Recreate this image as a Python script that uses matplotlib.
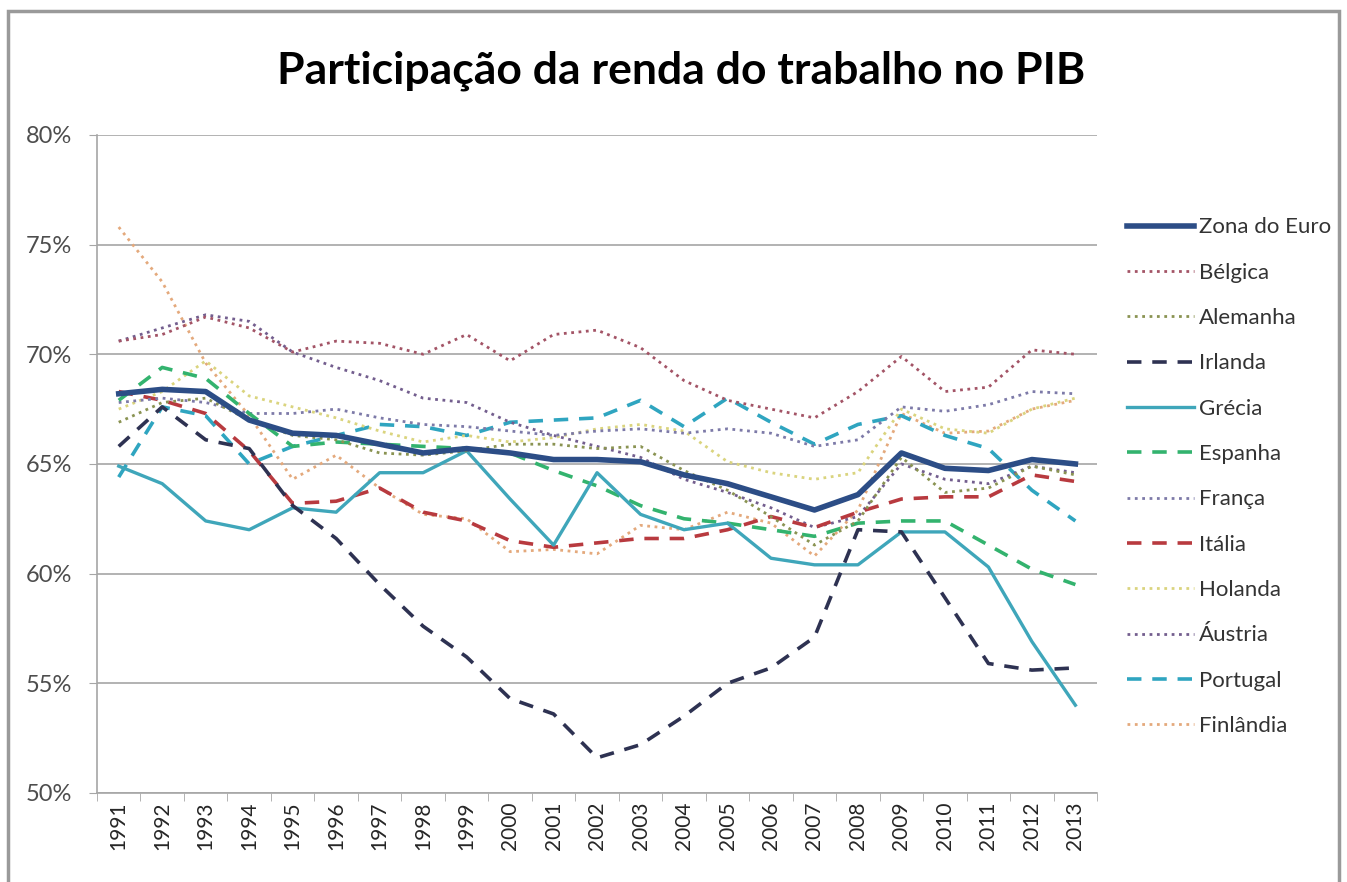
import matplotlib
matplotlib.use("Agg")
import matplotlib.pyplot as plt
from matplotlib.patches import Rectangle
from matplotlib.ticker import FuncFormatter, MultipleLocator
import numpy as np

# dados (% do PIB)
anos = [str(a) for a in range(1991, 2014)]

zona_euro = [68.2, 68.4, 68.3, 67.0, 66.4, 66.3, 65.9, 65.5, 65.7, 65.5, 65.2, 65.2,
             65.1, 64.5, 64.1, 63.5, 62.9, 63.6, 65.5, 64.8, 64.7, 65.2, 65.0]
belgica = [70.6, 70.9, 71.7, 71.2, 70.1, 70.6, 70.5, 70.0, 70.9, 69.7, 70.9, 71.1,
           70.3, 68.8, 67.9, 67.5, 67.1, 68.3, 69.9, 68.3, 68.5, 70.2, 70.0]
alemanha = [66.9, 67.8, 68.0, 67.0, 66.3, 66.1, 65.5, 65.4, 65.6, 65.9, 65.9, 65.7,
            65.8, 64.7, 63.8, 62.6, 61.3, 62.4, 65.3, 63.7, 63.9, 64.9, 64.5]
irlanda = [65.8, 67.6, 66.1, 65.7, 63.1, 61.6, 59.5, 57.6, 56.2, 54.3, 53.6, 51.6,
           52.2, 53.5, 55.0, 55.7, 57.1, 62.0, 61.9, 58.9, 55.9, 55.6, 55.7]
grecia = [64.9, 64.1, 62.4, 62.0, 63.0, 62.8, 64.6, 64.6, 65.6, 63.4, 61.3, 64.6,
          62.7, 62.0, 62.3, 60.7, 60.4, 60.4, 61.9, 61.9, 60.3, 56.9, 54.0]
espanha = [67.9, 69.4, 68.9, 67.3, 65.8, 66.0, 65.9, 65.8, 65.7, 65.5, 64.7, 64.0,
           63.1, 62.5, 62.3, 62.0, 61.7, 62.3, 62.4, 62.4, 61.3, 60.2, 59.5]
franca = [67.8, 68.0, 67.8, 67.3, 67.3, 67.5, 67.1, 66.8, 66.7, 66.5, 66.3, 66.5,
          66.6, 66.4, 66.6, 66.4, 65.8, 66.1, 67.6, 67.4, 67.7, 68.3, 68.2]
italia = [68.3, 67.9, 67.3, 65.6, 63.2, 63.3, 63.9, 62.8, 62.4, 61.5, 61.2, 61.4,
          61.6, 61.6, 62.0, 62.6, 62.1, 62.8, 63.4, 63.5, 63.5, 64.5, 64.2]
holanda = [67.5, 68.3, 69.7, 68.1, 67.6, 67.1, 66.5, 66.0, 66.3, 66.0, 66.2, 66.6,
           66.8, 66.5, 65.1, 64.6, 64.3, 64.6, 67.5, 66.6, 66.4, 67.5, 68.0]
austria = [70.6, 71.2, 71.8, 71.5, 70.1, 69.4, 68.8, 68.0, 67.8, 66.9, 66.3, 65.8,
           65.3, 64.3, 63.7, 63.0, 62.1, 62.6, 65.0, 64.3, 64.1, 64.9, 64.6]
portugal = [64.4, 67.6, 67.2, 65.0, 65.8, 66.3, 66.8, 66.7, 66.3, 66.9, 67.0, 67.1,
            67.9, 66.7, 68.0, 66.9, 65.9, 66.8, 67.2, 66.3, 65.7, 63.8, 62.4]
finlandia = [75.8, 73.3, 69.6, 67.2, 64.3, 65.4, 63.9, 62.7, 62.5, 61.0, 61.1, 60.9,
             62.2, 62.0, 62.8, 62.3, 60.8, 62.9, 67.3, 66.4, 66.5, 67.5, 67.9]

series = [
    ("Zona do Euro", zona_euro, "#2C4D86", "-", 4.0),
    ("Bélgica", belgica, "#A35466", ":", 2.0),
    ("Alemanha", alemanha, "#8A9352", ":", 2.0),
    ("Irlanda", irlanda, "#2E3252", (0, (4, 3)), 2.6),
    ("Grécia", grecia, "#3FA6BA", "-", 2.4),
    ("Espanha", espanha, "#33B36E", (0, (4, 3)), 2.6),
    ("França", franca, "#7D7AA8", ":", 2.0),
    ("Itália", italia, "#B83A3F", (0, (4, 3)), 2.6),
    ("Holanda", holanda, "#DAD47E", ":", 2.0),
    ("Áustria", austria, "#735E8E", ":", 2.0),
    ("Portugal", portugal, "#2FA5C0", (0, (4, 3)), 2.6),
    ("Finlândia", finlandia, "#E4A97C", ":", 2.0),
]

plt.rcParams['font.family'] = ['Lato', 'DejaVu Sans']

fig = plt.figure(figsize=(13.47, 8.82), dpi=100)
ax = fig.add_axes([0.072, 0.101, 0.7425, 0.746])

x = np.arange(len(anos))
# desenha de tras para frente para a Zona do Euro ficar por cima
for nome, vals, cor, estilo, lw in reversed(series):
    ax.plot(x, vals, color=cor, linestyle=estilo, linewidth=lw, label=nome,
            zorder=4 if nome == "Zona do Euro" else 3)

ax.set_xlim(-0.5, len(anos) - 0.5)
ax.set_ylim(50, 80)
ax.yaxis.set_major_locator(MultipleLocator(5))
ax.yaxis.set_major_formatter(FuncFormatter(lambda v, p: f"{v:.0f}%"))
ax.grid(axis='y', color='#A6A6A6', linewidth=1.2)
ax.set_axisbelow(True)

ax.set_xticks(x)
ax.set_xticklabels(anos, rotation=90)
ax.set_xticks(np.arange(-0.5, len(anos)), minor=True)
ax.tick_params(axis='x', which='major', length=0, pad=6, labelsize=15, colors='#262626')
ax.tick_params(axis='x', which='minor', length=6, color='#A6A6A6')
ax.tick_params(axis='y', length=6, color='#A6A6A6', labelsize=17, colors='#4D4D4D', pad=12)

for s in ['top', 'right']:
    ax.spines[s].set_visible(False)
ax.spines['left'].set_color('#A6A6A6')
ax.spines['bottom'].set_color('#A6A6A6')
ax.spines['left'].set_linewidth(1.2)
ax.spines['bottom'].set_linewidth(1.2)

handles, labels = ax.get_legend_handles_labels()
handles, labels = handles[::-1], labels[::-1]
ax.legend(handles, labels, loc='upper left', bbox_to_anchor=(1.01, 0.905),
          frameon=False, fontsize=16, labelspacing=1.14, handlelength=3.0,
          handletextpad=0.25, labelcolor='#333333')

fig.text(0.506, 0.92, "Participação da renda do trabalho no PIB", ha='center',
         va='center', fontsize=32, fontweight='bold', color='black')

# moldura cinza do grafico
fig.patches.append(Rectangle((0.006, -0.01), 0.988, 0.997, transform=fig.transFigure,
                             fill=False, edgecolor='#9A9A9A', linewidth=2.5))

fig.savefig("out.png", dpi=100)
